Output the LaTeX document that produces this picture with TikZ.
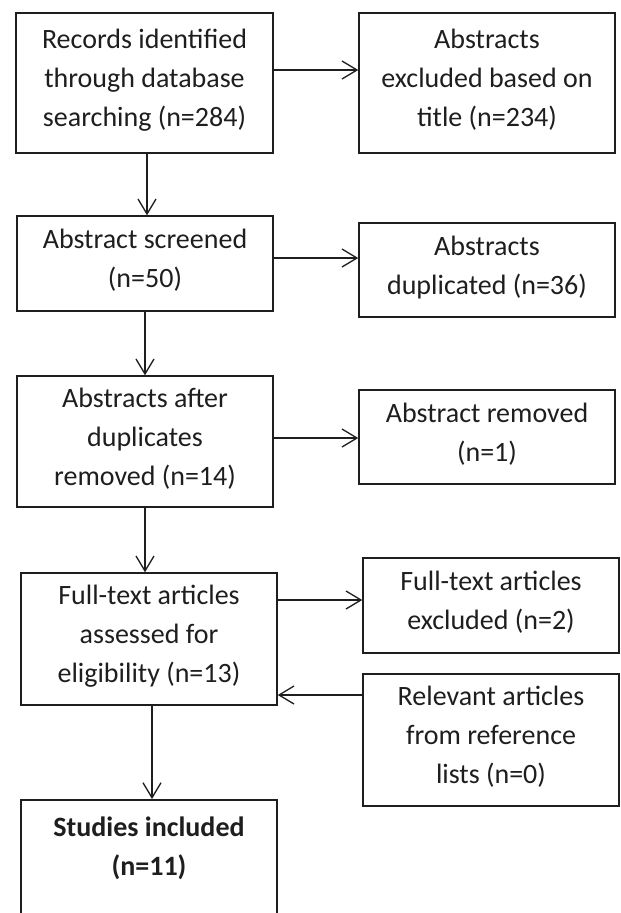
\documentclass[tikz,border=0pt]{standalone}
\usepackage{fontspec}
\setmainfont{Carlito}
\usetikzlibrary{arrows.meta}
\definecolor{ink}{RGB}{30,30,30}
\begin{document}
\begin{tikzpicture}[x=1pt,y=-1pt,
  box/.style={draw=ink, text=ink, line width=1.5pt, inner sep=0pt, align=center,
    font=\fontsize{28}{39}\selectfont, minimum width=256pt},
  toph/.style={execute at begin node={\rule{0pt}{#1}}},
  botd/.style={execute at end node={\rule[-#1]{0pt}{#1}}},
  arr/.style={draw=ink, line width=1.3pt, -{Straight Barb[length=15pt,width=18pt,line width=1.3pt]}}]
\useasboundingbox (0,0) rectangle (621,913);
\clip (0,0) rectangle (621,913);
\node[box, minimum width=257pt, minimum height=140pt, toph=31pt, botd=10pt] (b1) at (144.5,83) {Records identified\\through database\\searching (n=284)};
\node[box, minimum height=140pt, toph=26pt, botd=10pt] (b2) at (487,83) {Abstracts\\excluded based on\\title (n=234)};
\node[box, minimum height=95pt, toph=36pt, botd=10pt] (b3) at (145,263.5) {Abstract screened\\(n=50)};
\node[box, minimum height=94pt, toph=34pt, botd=10pt] (b4) at (487,270) {Abstracts\\duplicated (n=36)};
\node[box, minimum height=131pt, toph=34pt, botd=10pt] (b5) at (145,441.5) {Abstracts after\\duplicates\\removed (n=14)};
\node[box, minimum height=94pt, toph=32pt, botd=10pt] (b6) at (487,437) {Abstract removed\\(n=1)};
\node[box, minimum height=132pt, toph=35pt, botd=10pt] (b7) at (149,639) {Full-text articles\\assessed for\\eligibility (n=13)};
\node[box, minimum height=95pt, toph=55pt, botd=10pt] (b8) at (491,605.5) {Full-text articles\\excluded (n=2)};
\node[box, minimum height=132pt, toph=34pt, botd=10pt] (b9) at (491,740) {Relevant articles\\from reference\\lists (n=0)};
\node[box, minimum height=160pt, anchor=north, toph=24pt, botd=68pt] (b10) at (149,799) {\bfseries Studies included\\\bfseries (n=11)};
\draw[arr] ([yshift=13pt]b1.east) -- ([yshift=13pt]b1.east -| b2.west);
\draw[arr] ([xshift=2.5pt]b1.south) -- ([xshift=2.5pt]b1.south |- b3.north);
\draw[arr] ([yshift=5.5pt]b3.east) -- ([yshift=5.5pt]b3.east -| b4.west);
\draw[arr] (b3.south) -- (b5.north);
\draw[arr] ([yshift=3.5pt]b5.east) -- ([yshift=3.5pt]b5.east -| b6.west);
\draw[arr] (b5.south) -- (b5.south |- b7.north);
\draw[arr] ([yshift=39pt]b7.east) -- ([yshift=39pt]b7.east -| b8.west);
\draw[arr] ([yshift=-56pt]b7.east -| b9.west) -- ([yshift=-56pt]b7.east);
\draw[arr] ([xshift=3pt]b7.south) -- ([xshift=3pt]b7.south |- b10.north);
\end{tikzpicture}
\end{document}
